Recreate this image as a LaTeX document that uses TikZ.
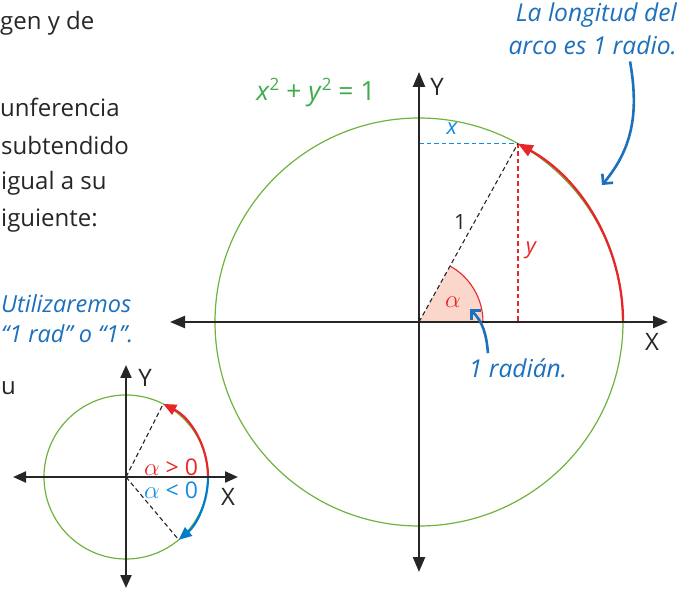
\documentclass[tikz,border=0pt]{standalone}
\usepackage{fontspec}
\setmainfont{Open Sans}
\usetikzlibrary{arrows.meta,calc,positioning}
\definecolor{arco}{RGB}{232,38,42}
\definecolor{sector}{RGB}{251,214,202}
\definecolor{nota}{RGB}{28,112,188}
\definecolor{cateto}{RGB}{20,140,225}
\definecolor{negativo}{RGB}{0,125,200}
\definecolor{circulo}{RGB}{112,178,62}
\definecolor{ecuacion}{RGB}{62,172,78}
\definecolor{texto}{RGB}{38,38,38}

\begin{document}
\begin{tikzpicture}[x=1pt,y=1pt,
  >={Triangle[length=15pt,width=12pt]},
  eje/.style={<->,line width=2.4pt,texto},
  ejechico/.style={<->,line width=2.2pt,texto,>={Triangle[length=13pt,width=11pt]}},
  guia/.style={dash pattern=on 4.5pt off 3pt,line width=1.3pt},
  flecha/.style={nota,line width=2.6pt,-{Straight Barb[length=7pt,width=14pt]}},
  cuerpo/.style={anchor=base west,inner sep=0pt,texto,font=\fontsize{24}{28}\selectfont},
  comentario/.style={inner sep=0pt,nota,align=right,font=\fontsize{24.6}{33}\selectfont\itshape},
  rotulo/.style={inner sep=0pt,texto,font=\fontsize{24}{24}\selectfont}]
  \useasboundingbox (0,0) rectangle (682,589);
  % text of the page, cut at the left margin
  \node[cuerpo] (l1) at (0,559) {gen y de};
  \node[cuerpo] (l2) at (0,472) {unferencia};
  \node[cuerpo] (l3) at (1,434) {subtendido};
  \node[cuerpo] (l4) at (1,399) {igual a su};
  \node[cuerpo] (l5) at (1,362) {iguiente:};
  \node[cuerpo,nota,font=\fontsize{23.5}{28}\selectfont\itshape] (l6) at (1,276) {Utilizaremos};
  \node[cuerpo,nota,font=\fontsize{23.5}{28}\selectfont\itshape] (l7) at (1,246) {“1 rad” o “1”.};
  \node[cuerpo] (l8) at (1,194) {u};

  % big unit circle (grid coordinates in px)
  \coordinate (O) at (419,267);
  \coordinate (P) at ($(O)+(61:204)$);
  \coordinate (A) at ($(O)+(204,0)$);
  \coordinate (B) at ($(O)+(64,0)$);
  \coordinate (Px) at (O |- P);
  \coordinate (Py) at (O -| P);
  \coordinate (xizq) at (170,267);
  \coordinate (xder) at (668,267);
  \coordinate (yaba) at (419,17);
  \coordinate (yarr) at (419,517);
  % angle sector
  \fill[sector] (O) -- (B) arc[start angle=0,end angle=61,radius=64] -- cycle;
  \draw[arco,line width=1.1pt] (B) arc[start angle=0,end angle=61,radius=64];
  \draw[circulo,line width=1.2pt] (O) circle[radius=204];
  \draw[guia,draw=cateto,line width=1.5pt] (Px) -- (P);
  \draw[guia,arco] (P) -- (Py);
  \draw[guia,texto,line width=1.1pt] (O) -- (P);
  \draw[arco,line width=2.3pt,->] (A) arc[start angle=0,end angle=61,radius=204];
  \draw[eje] (xizq) -- (xder);
  \draw[eje] (yaba) -- (yarr);
  % labels
  \node[rotulo] (Y) at (437,502) {Y};
  \node[rotulo] (X) at (652,247) {X};
  \node[rotulo,font=\fontsize{21}{21}\selectfont] (uno) at (460,367) {1};
  \node[rotulo,arco,font=\fontsize{22}{22}\selectfont\itshape] (cy) at (531,339) {y};
  \node[rotulo,cateto,font=\fontsize{22}{22}\selectfont\itshape] (cx) at (452,460) {x};
  \node[rotulo,arco,font=\fontsize{25}{25}\selectfont] (alfa) at (453,287) {$\alpha$};
  \node[rotulo,ecuacion,font=\fontsize{26.5}{26.5}\selectfont] (ecuacion) at (316,496)
    {\itshape x\/\upshape\raisebox{10pt}{\fontsize{17}{17}\selectfont 2} + \itshape y\/\upshape\raisebox{10pt}{\fontsize{17}{17}\selectfont 2} = 1};
  \node[comentario,anchor=north east] (longitud) at (677,586) {La longitud del\\arco es 1 radio.};
  \node[comentario] (radian) at (518,221) {1 radián.};
  \coordinate (tipL) at (602,404);
  \coordinate (tipR) at (470,280);
  \draw[flecha] ($(longitud.south east)+(-47,-6)$) to[out=-80,in=50] (tipL);
  \draw[flecha] ([xshift=-30pt,yshift=5pt]radian.north) to[out=95,in=-45] (tipR);

  % small circle: sign of the angle
  \coordinate (C) at (126,112);
  \coordinate (Q) at ($(C)+(63:82)$);
  \coordinate (S) at ($(C)+(-50:82)$);
  \coordinate (D) at ($(C)+(82,0)$);
  \coordinate (cxizq) at (13,112);
  \coordinate (cxder) at (238,112);
  \coordinate (cyaba) at (126,1);
  \coordinate (cyarr) at (126,224);
  \draw[circulo,line width=1.2pt] (C) circle[radius=82];
  \foreach \p in {Q,S} { \draw[guia,texto,line width=1.1pt] (C) -- (\p); }
  \draw[arco,line width=2.2pt,->,>={Triangle[length=13pt,width=11pt]}] (D) arc[start angle=0,end angle=63,radius=82];
  \draw[negativo,line width=2.2pt,->,>={Triangle[length=13pt,width=11pt]}] (D) arc[start angle=0,end angle=-50,radius=82];
  \draw[ejechico] (cxizq) -- (cxder);
  \draw[ejechico] (cyaba) -- (cyarr);
  \node[rotulo] (cY) at (145,211) {Y};
  \node[rotulo] (cX) at (228,92) {X};
  \node[rotulo,arco,font=\fontsize{23}{23}\selectfont] (pos) at (171,122) {$\alpha$ > 0};
  \node[rotulo,cateto,font=\fontsize{23}{23}\selectfont] (neg) at (171,99) {$\alpha$ < 0};
\end{tikzpicture}
\end{document}
